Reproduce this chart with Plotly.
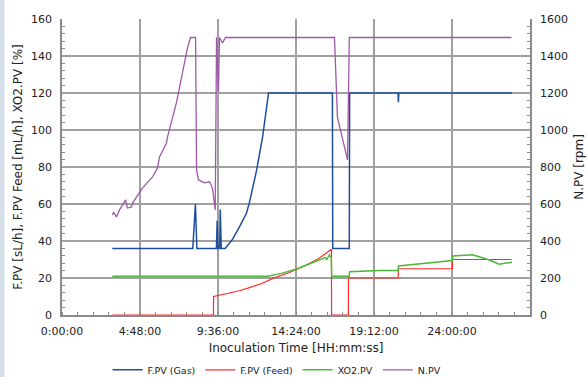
import plotly.graph_objects as go

# ---- data (time in hours since inoculation) ----
gas_t = [3.1, 8.05, 8.21, 8.3, 9.5, 9.55, 9.6, 9.7, 9.74, 9.8, 10.04, 10.5, 10.92, 11.35, 11.54, 11.97, 12.34, 12.71, 16.64, 16.66, 17.68, 17.70, 20.68, 20.70, 20.73, 27.7]
gas_v = [36, 36, 60, 36, 36, 51, 36, 36, 57, 36, 36, 41, 47.6, 55, 61, 78, 96, 120, 120, 36, 36, 120, 120, 115, 120, 120]

feed_t = [3.1, 9.32, 9.33, 10.0, 10.92, 11.54, 12.3, 12.97, 14.0, 15.04, 15.8, 16.58, 16.59, 17.62, 17.63, 20.69, 20.7, 24.02, 24.03, 27.66]
feed_v = [0, 0, 10, 11.3, 13.1, 14.8, 17, 19.8, 23, 27, 30.5, 35.5, 0, 0, 20, 20, 25, 25, 30, 30]

xo2_t = [3.1, 12.65, 13.5, 14.5, 15.04, 15.8, 16.2, 16.3, 16.45, 16.57, 16.6, 17.68, 17.7, 19.54, 20.69, 20.71, 24.02, 24.05, 25.26, 26.3, 26.9, 27.7]
xo2_v = [21, 21, 22.5, 25, 27, 29.5, 31, 30, 32.5, 31, 21, 21, 23.4, 24, 24, 26.5, 29.4, 31.9, 32.6, 29.7, 27.4, 28.5]

n_t = [3.11, 3.17, 3.35, 3.54, 3.91, 4.03, 4.28, 4.34, 4.95, 5.57, 5.88, 6.0, 6.43, 6.49, 7.05, 7.66, 7.72, 7.91, 8.22, 8.28, 8.4, 8.77, 9.08, 9.26, 9.43, 9.51, 9.63, 9.69, 9.88, 10.06, 16.77, 16.95, 17.26, 17.57, 17.68, 27.66]
n_v = [540, 557, 530, 568, 622, 578, 584, 605, 686, 746, 795, 854, 930, 962, 1151, 1416, 1443, 1500, 1500, 784, 730, 714, 720, 686, 568, 1500, 1205, 1500, 1470, 1500, 1500, 1070, 946, 838, 1500, 1500]

x_tickvals = [0, 4.8, 9.6, 14.4, 19.2, 24.0]
x_ticktext = ["0:00:00", "4:48:00", "9:36:00", "14:24:00", "19:12:00", "24:00:00"]

FONT = "DejaVu Sans"
GRID = "#a0a0a0"
AXIS = "#8a8a8a"

fig = go.Figure()
fig.add_trace(go.Scatter(x=gas_t, y=gas_v, mode="lines", name="F.PV (Gas)",
                         line=dict(color="#1f4e9e", width=1.5)))
fig.add_trace(go.Scatter(x=feed_t, y=feed_v, mode="lines", name="F.PV (Feed)",
                         line=dict(color="#ff2b2b", width=1.2)))
fig.add_trace(go.Scatter(x=xo2_t, y=xo2_v, mode="lines", name="XO2.PV",
                         line=dict(color="#4cb83a", width=1.5)))
fig.add_trace(go.Scatter(x=n_t, y=n_v, mode="lines", name="N.PV", yaxis="y2",
                         line=dict(color="#a058aa", width=1.3)))

fig.update_layout(
    width=587, height=377,
    margin=dict(l=62, r=57, t=19, b=62, autoexpand=False),
    paper_bgcolor="white", plot_bgcolor="white",
    font=dict(family=FONT, size=11, color="#222"),
    xaxis=dict(range=[0, 28.8], tickmode="array", tickvals=x_tickvals, ticktext=x_ticktext,
               showgrid=True, gridcolor=GRID, gridwidth=1.5, automargin=False,
               showline=True, linecolor=AXIS, linewidth=1.5, zeroline=False,
               ticks="", ticklabelstandoff=5,
               minor=dict(tick0=0, dtick=0.96, ticks="inside", ticklen=3, tickcolor=AXIS, showgrid=False),
               title=dict(text="Inoculation Time [HH:mm:ss]", font=dict(size=12), standoff=8)),
    yaxis=dict(range=[0, 160], dtick=20, showgrid=True, gridcolor=GRID, gridwidth=1.5, automargin=False,
               showline=True, linecolor=AXIS, linewidth=1.5, zeroline=False,
               ticks="", ticklabelstandoff=6,
               minor=dict(dtick=4, ticks="inside", ticklen=3, tickcolor=AXIS, showgrid=False),
               title=dict(text="F.PV [sL/h], F.PV Feed [mL/h], XO2.PV [%]", font=dict(size=12), standoff=6)),
    yaxis2=dict(range=[0, 1600], dtick=200, overlaying="y", side="right", showgrid=False, automargin=False,
                showline=True, linecolor=AXIS, linewidth=1.5, zeroline=False,
                ticks="", ticklabelstandoff=6,
                minor=dict(dtick=40, ticks="inside", ticklen=3, tickcolor=AXIS),
                title=dict(text="N.PV [rpm]", font=dict(size=12), standoff=8)),
    legend=dict(orientation="h", xref="container", x=0.472, xanchor="center",
                yref="container", y=0.019, yanchor="middle",
                font=dict(size=9.5), bgcolor="rgba(0,0,0,0)", itemwidth=30,
                tracegroupgap=0),
    shapes=[dict(type="rect", xref="paper", yref="paper", x0=-62/468, x1=-57.5/468,
                 y0=-0.22, y1=1.08, fillcolor="#d3dee8", line=dict(width=0), layer="below")],
)

fig.write_html("out.html")
